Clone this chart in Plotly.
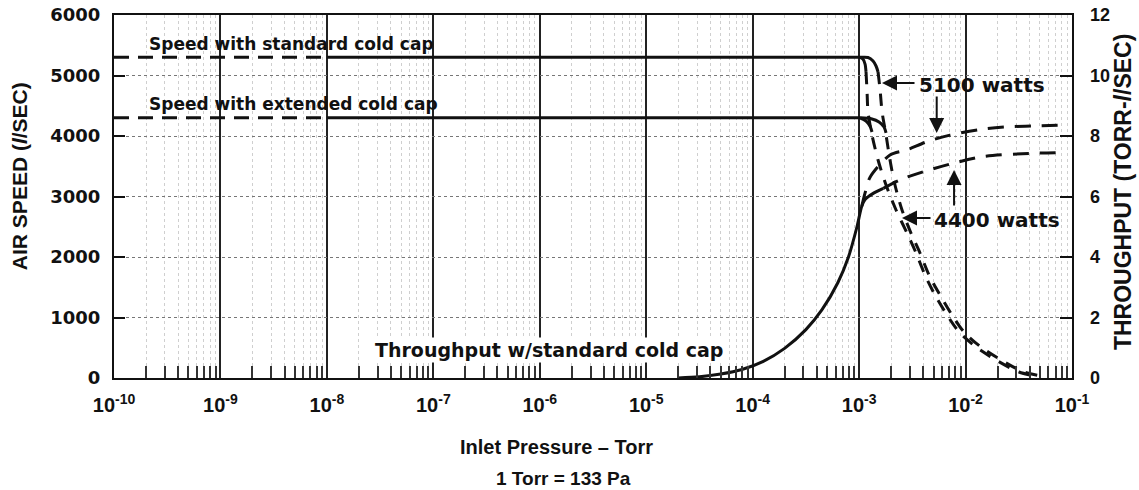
import numpy as np
import plotly.graph_objects as go

# ---------------- data ----------------
decade_exps = list(range(-10, 0))                      # x tick decades 1e-10 .. 1e-1
x_tick_text = ["10<sup>%d</sup>" % e for e in decade_exps]

speed_std = 5300          # l/sec, standard cold cap
speed_ext = 4300          # l/sec, extended cold cap
flat_dash_logp = [-10.0, -8.0]
flat_solid_logp = [-8.0, -2.991]

# speed roll-off (two descending curves)
dropA_arc_logp = [-2.991, -2.963, -2.944, -2.935]
dropA_arc_speed = [5300, 5270, 5190, 5058]
dropB_arc_logp = [-2.991, -2.916, -2.869, -2.841, -2.822]
dropB_arc_speed = [5300, 5298, 5240, 5157, 5058]
dropA_logp = [-2.935, -2.926, -2.916, -2.879, -2.822, -2.747, -2.653, -2.550, -2.465,
              -2.381, -2.287, -2.174, -2.061, -1.902, -1.714, -1.498, -1.300]
dropB_logp = [-2.822, -2.803, -2.784, -2.747, -2.710, -2.663, -2.597, -2.513, -2.428,
              -2.343, -2.240, -2.127, -2.015, -1.855, -1.667, -1.451, -1.235]
drop_speed = [5058, 4760, 4397, 4017, 3603, 3190, 2777, 2397, 2066,
              1702, 1372, 1041, 760, 512, 298, 99, 17]
extA_arc_logp = [-2.991, -2.935, -2.898, -2.879]
extA_arc_speed = [4300, 4248, 4165, 4066]
extB_arc_logp = [-2.991, -2.879, -2.813, -2.766, -2.747]
extB_arc_speed = [4300, 4281, 4231, 4149, 4050]

# throughput (torr-l/sec)
thr_solid_logp = [-4.70, -4.50, -4.30, -4.10, -3.90, -3.70, -3.50, -3.35, -3.20,
                  -3.10, -3.02, -2.975, -2.944, -2.86, -2.773]
thr_solid_val = [0.0, 0.04, 0.13, 0.28, 0.55, 0.98, 1.60, 2.25, 3.15,
                 4.0, 5.0, 5.68, 5.90, 6.12, 6.27]
thr_hi_logp = [-2.975, -2.944, -2.897, -2.710, -2.553, -2.365, -2.146, -1.836, -1.582, -1.366, -1.112]
thr_hi_val = [5.68, 6.12, 6.64, 7.37, 7.54, 7.81, 8.03, 8.23, 8.31, 8.33, 8.36]
thr_lo_logp = [-2.773, -2.616, -2.397, -2.146, -1.833, -1.363, -1.112]
thr_lo_val = [6.27, 6.55, 6.82, 7.07, 7.32, 7.43, 7.45]

# ---------------- figure ----------------
INK = "#111111"
BOLD = dict(family="DejaVu Sans", weight="bold", color=INK)


def P(lp):
    return 10 ** np.array(lp, dtype=float)


fig = go.Figure()


def add(xl, yv, dash=None, width=3, axis="y", shape="spline"):
    fig.add_trace(go.Scatter(
        x=P(xl), y=yv, mode="lines", yaxis=axis, showlegend=False, hoverinfo="skip",
        line=dict(color=INK, width=width, dash=dash, shape=shape, smoothing=0.8)))


flat_dash = "15px,9px"
drop_dash = "12px,10px"
thr_dash = "16px,11px"

for s in (speed_std, speed_ext):
    add(flat_dash_logp, [s, s], dash=flat_dash, shape="linear")
    add(flat_solid_logp, [s, s], shape="linear")

add(dropA_arc_logp, dropA_arc_speed)
add(dropB_arc_logp, dropB_arc_speed)
add(extA_arc_logp, extA_arc_speed)
add(extB_arc_logp, extB_arc_speed)
add(dropA_logp, drop_speed, dash=drop_dash)
add(dropB_logp, drop_speed, dash=drop_dash)

add(thr_solid_logp, thr_solid_val, axis="y2")
add(thr_hi_logp, thr_hi_val, dash=thr_dash, axis="y2")
add(thr_lo_logp, thr_lo_val, dash=thr_dash, axis="y2")

minor_vals = [k * 10.0 ** e for e in range(-10, -1) for k in range(2, 10)]

fig.update_layout(
    width=1139, height=490,
    margin=dict(l=114, r=67, t=15, b=112),
    paper_bgcolor="white", plot_bgcolor="white",
    xaxis=dict(
        type="log", range=[-10, -1], automargin=False,
        tickvals=[10.0 ** e for e in decade_exps], ticktext=x_tick_text,
        tickfont=dict(family="Liberation Sans", size=20, weight="bold", color=INK),
        ticks="", ticklabelstandoff=8,
        showgrid=True, gridcolor="#222", gridwidth=1.5,
        showline=True, linecolor=INK, linewidth=2, mirror=True,
        minor=dict(tickvals=minor_vals, ticks="inside", ticklen=12, tickwidth=1.5,
                   tickcolor="#333", showgrid=True, gridcolor="#cfcfcf",
                   griddash="dot", gridwidth=1),
        zeroline=False,
    ),
    yaxis=dict(
        range=[0, 6000], dtick=1000, tickformat="d", automargin=False,
        tickfont=dict(family="DejaVu Sans", size=18, weight="bold", color=INK),
        ticks="inside", ticklen=11, tickwidth=1.5, tickcolor=INK, ticklabelstandoff=8,
        showgrid=True, gridcolor="#777", griddash="dot", gridwidth=1,
        showline=True, linecolor=INK, linewidth=2, mirror=True, zeroline=False,
    ),
    yaxis2=dict(
        range=[0, 12], dtick=2, overlaying="y", side="right", automargin=False,
        tickfont=dict(family="Liberation Sans", size=18, weight="bold", color=INK),
        ticks="inside", ticklen=12, tickwidth=1.5, tickcolor=INK, ticklabelstandoff=17,
        showgrid=False, showline=False, zeroline=False,
    ),
)

ann = []
# curve labels
ann.append(dict(x=-9.69, y=5521, xref="x", yref="y", text="Speed with standard cold cap",
                showarrow=False, xanchor="left", yanchor="middle", font=dict(size=17, **BOLD)))
ann.append(dict(x=-9.69, y=4529, xref="x", yref="y", text="Speed with extended cold cap",
                showarrow=False, xanchor="left", yanchor="middle", font=dict(size=17, **BOLD)))
ann.append(dict(x=-7.567, y=463, xref="x", yref="y", text="Throughput w/standard cold cap",
                showarrow=False, xanchor="left", yanchor="middle", bgcolor="white",
                font=dict(size=19, **BOLD)))
ann.append(dict(x=-2.458, y=4843, xref="x", yref="y", text="5100 watts",
                showarrow=False, xanchor="left", yanchor="middle", font=dict(size=20, **BOLD)))
ann.append(dict(x=-2.318, y=2612, xref="x", yref="y", text="4400 watts",
                showarrow=False, xanchor="left", yanchor="middle", font=dict(size=20, **BOLD)))
# arrows
for hx, hy, axp, ayp in [(-2.785, 4876, 34, 0), (-2.271, 4050, 0, -38),
                         (-2.597, 2645, 30, 0), (-2.108, 3438, 0, 37)]:
    ann.append(dict(x=hx, y=hy, xref="x", yref="y", text="", showarrow=True,
                    ax=axp, ay=ayp, arrowhead=2, arrowsize=1.5, arrowwidth=2,
                    arrowcolor=INK, standoff=0, startstandoff=0))
# axis titles
ann.append(dict(x=-0.0992, y=0.556, xref="paper", yref="paper", text="AIR SPEED (<i>l</i>/SEC)",
                showarrow=False, textangle=-90, xanchor="center", yanchor="middle",
                font=dict(family="Liberation Sans", size=21, weight="bold", color=INK)))
ann.append(dict(x=1.0532, y=0.512, xref="paper", yref="paper", text="THROUGHPUT (TORR-<i>l</i>/SEC)",
                showarrow=False, textangle=-90, xanchor="center", yanchor="middle",
                font=dict(family="Liberation Sans", size=23, weight="bold", color=INK)))
ann.append(dict(x=0.4624, y=-0.190, xref="paper", yref="paper", text="Inlet Pressure – Torr",
                showarrow=False, xanchor="center", yanchor="middle",
                font=dict(family="Liberation Sans", size=20, weight="bold", color=INK)))
ann.append(dict(x=0.4687, y=-0.2755, xref="paper", yref="paper", text="1 Torr = 133 Pa",
                showarrow=False, xanchor="center", yanchor="middle",
                font=dict(family="Liberation Sans", size=19, weight="bold", color=INK)))
fig.update_layout(annotations=ann)

fig.write_html("out.html", config={"displayModeBar": False},
               post_script="document.body.style.margin='0';document.body.style.padding='0';")
